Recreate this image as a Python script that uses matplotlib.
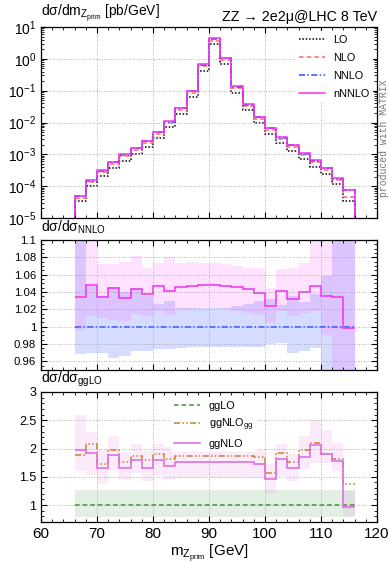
import numpy as np
import matplotlib
matplotlib.use('Agg')
import matplotlib.pyplot as plt
from matplotlib.ticker import FixedLocator, MultipleLocator, FuncFormatter, LogLocator, NullFormatter

plt.rcParams['font.family'] = ['Liberation Sans', 'DejaVu Sans']
plt.rcParams['mathtext.fontset'] = 'custom'
plt.rcParams['mathtext.rm'] = 'Liberation Sans'
plt.rcParams['mathtext.it'] = 'Liberation Sans:italic'
plt.rcParams['mathtext.default'] = 'rm'

# bin edges in m_Zprim [GeV]
edges = np.arange(66, 117, 2)

# top panel: dsigma/dm [pb/GeV]
LO = [3.4e-5, 1.0e-4, 2.1e-4, 3.7e-4, 6.4e-4, 1.0e-3, 1.75e-3, 3.3e-3, 7.0e-3, 1.85e-2,
      0.064, 0.43, 2.9, 0.68, 0.087, 0.024, 9.6e-3, 4.3e-3, 2.2e-3, 1.28e-3,
      7.0e-4, 4.1e-4, 2.4e-4, 1.15e-4, 3.5e-5]
NLO = [4.3e-5, 1.36e-4, 2.8e-4, 5.0e-4, 8.7e-4, 1.38e-3, 2.35e-3, 4.5e-3, 9.5e-3, 2.5e-2,
       0.086, 0.585, 3.75, 0.93, 0.12, 0.033, 1.3e-2, 5.85e-3, 3.0e-3, 1.75e-3,
       9.5e-4, 5.6e-4, 3.3e-4, 1.57e-4, 4.7e-5]
NNLO = [4.9e-5, 1.5e-4, 3.1e-4, 5.55e-4, 9.7e-4, 1.53e-3, 2.6e-3, 4.97e-3, 1.06e-2, 2.77e-2,
        0.0955, 0.65, 4.2, 1.03, 0.134, 0.0364, 0.0144, 6.5e-3, 3.36e-3, 1.94e-3,
        1.06e-3, 6.2e-4, 3.67e-4, 1.74e-4, 7.4e-5]

# middle panel: ratio to NNLO
nNNLO_ratio = [1.034, 1.048, 1.034, 1.045, 1.033, 1.043, 1.038, 1.047, 1.041, 1.046,
               1.047, 1.048, 1.048, 1.047, 1.046, 1.044, 1.039, 1.024, 1.041, 1.032,
               1.040, 1.047, 1.035, 1.034, 0.999]
NNLO_lo = [0.968, 0.970, 0.970, 0.964, 0.966, 0.972, 0.972, 0.974, 0.974, 0.975,
           0.976, 0.976, 0.977, 0.977, 0.977, 0.977, 0.977, 0.980, 0.981, 0.970,
           0.972, 0.975, 0.935, 0.930, 0.930]
NNLO_hi = [1.12, 1.047, 1.035, 1.046, 1.040, 1.045, 1.035, 1.026, 1.030, 1.022,
           1.022, 1.022, 1.021, 1.022, 1.024, 1.026, 1.030, 1.032, 1.025, 1.035,
           1.028, 1.038, 1.058, 1.12, 1.12]
nNNLO_lo = [0.996, 1.012, 1.010, 1.008, 1.006, 1.015, 1.012, 1.018, 1.014, 1.020,
            1.020, 1.021, 1.021, 1.020, 1.018, 1.016, 1.013, 1.004, 1.018, 1.012,
            1.016, 1.018, 0.990, 0.930, 0.930]
nNNLO_hi = [1.12, 1.12, 1.072, 1.072, 1.075, 1.082, 1.068, 1.073, 1.080, 1.073,
            1.075, 1.074, 1.074, 1.072, 1.070, 1.068, 1.068, 1.045, 1.066, 1.068,
            1.073, 1.12, 1.12, 1.12, 1.12]

# bottom panel: ratio to ggLO
ggLO_lo = 0.79
ggLO_hi = 1.27
ggNLOgg = [1.878, 2.087, 1.728, 1.967, 1.758, 1.866, 1.800, 1.907, 1.818, 1.872,
           1.872, 1.871, 1.870, 1.869, 1.868, 1.866, 1.854, 1.561, 1.925, 1.758,
           1.967, 2.100, 1.907, 1.818, 1.370]
ggNLO = [1.967, 1.925, 1.657, 1.884, 1.651, 1.794, 1.663, 1.800, 1.693, 1.764,
         1.765, 1.765, 1.764, 1.763, 1.761, 1.758, 1.728, 1.454, 1.810, 1.657,
         1.848, 2.070, 1.907, 1.788, 0.970]
ggNLO_lo = [1.61, 1.54, 1.39, 1.60, 1.45, 1.57, 1.42, 1.52, 1.45, 1.48,
            1.48, 1.48, 1.48, 1.48, 1.48, 1.48, 1.47, 1.22, 1.51, 1.42,
            1.63, 1.75, 1.75, 1.60, 0.80]
ggNLO_hi = [2.59, 2.29, 1.99, 2.23, 1.93, 2.08, 1.96, 2.08, 2.02, 1.99,
            1.99, 1.99, 1.99, 1.99, 1.99, 1.98, 1.97, 1.72, 2.08, 1.90,
            2.23, 2.50, 2.32, 2.10, 1.25]

c_lo = 'black'
c_nlo = '#ff6a5a'
c_nnlo = '#3050ff'
c_nnnlo = '#f030f0'
c_gglo = '#3a8f3a'
c_ggnlogg = '#c8822e'
c_ggnlo = '#e070e0'

fig = plt.figure(figsize=(3.89, 5.64), dpi=100)
L, W = 41/389, 336/389
ax1 = fig.add_axes([L, 1-218/564, W, 191/564])
ax2 = fig.add_axes([L, 1-370/564, W, 130/564])
ax3 = fig.add_axes([L, 1-522/564, W, 130/564])

for ax in (ax1, ax2, ax3):
    ax.set_xlim(60, 120)
    ax.xaxis.set_major_locator(MultipleLocator(10))
    ax.xaxis.set_minor_locator(MultipleLocator(2))
    ax.tick_params(which='both', direction='in', top=True, right=True, labelsize=9)
    ax.tick_params(which='major', length=4.5, width=0.8)
    ax.tick_params(which='minor', length=2.5, width=0.6)
    ax.grid(True, which='major', linestyle=(0, (1, 2)), color='#999999', linewidth=0.6)
    for s in ax.spines.values():
        s.set_linewidth(0.9)

# top panel
ax1.set_yscale('log')
ax1.set_ylim(1e-5, 10)
ax1.yaxis.set_major_locator(LogLocator(base=10, numticks=10))
ax1.yaxis.set_minor_locator(LogLocator(base=10, subs=np.arange(2, 10), numticks=10))
ax1.yaxis.set_minor_formatter(NullFormatter())
ax1.tick_params(labelbottom=False)
ax1.tick_params(axis='y', labelsize=10)
ax1.stairs(LO, edges, baseline=1e-7, color=c_lo, lw=1.1, ls=(0, (1, 1.2)), label='LO')
ax1.stairs(NLO, edges, baseline=1e-7, color=c_nlo, lw=1.1, ls=(0, (3, 2)), label='NLO')
ax1.stairs(NNLO, edges, baseline=1e-7, color=c_nnlo, lw=1.1, ls=(0, (4, 1.5, 1, 1.5)), label='NNLO')
nNNLO = np.array(NNLO) * np.array(nNNLO_ratio)
ax1.stairs(nNNLO, edges, baseline=1e-7, color=c_nnnlo, lw=1.1, label='nNNLO')
ax1.legend(loc='upper right', fontsize=7.8, frameon=True, facecolor='white',
           edgecolor='none', framealpha=1, handlelength=2.4, handletextpad=0.8,
           labelspacing=0.75, borderaxespad=0.4, borderpad=0.3)
ax1.text(0.0, 1.015, 'dσ/dm$_{Z_{\\rm prim}}$ [pb/GeV]', transform=ax1.transAxes,
         ha='left', va='bottom', fontsize=10)
ax1.text(1.0, 1.015, 'ZZ → 2e2μ@LHC 8 TeV', transform=ax1.transAxes,
         ha='right', va='bottom', fontsize=10.3)
fig.text(0.986, 1-138/564, 'produced with MATRIX', rotation=90, ha='center', va='center',
         family='Liberation Mono', fontsize=7, color='#777777')

# middle panel
ax2.set_ylim(0.95, 1.1)
ax2.yaxis.set_major_locator(FixedLocator(np.arange(0.96, 1.101, 0.02)))
ax2.yaxis.set_minor_locator(MultipleLocator(0.005))
ax2.yaxis.set_major_formatter(FuncFormatter(lambda v, p: f'{v:g}'))
ax2.tick_params(labelbottom=False)
ax2.tick_params(axis='y', labelsize=8.2)
ax2.stairs(NNLO_hi, edges, baseline=NNLO_lo, fill=True, color=c_nnlo, alpha=0.2, lw=0)
ax2.stairs(nNNLO_hi, edges, baseline=nNNLO_lo, fill=True, color='#ff40ff', alpha=0.15, lw=0)
ax2.stairs(np.ones(len(NNLO)), edges, baseline=None, color=c_nnlo, lw=1.1,
           ls=(0, (4, 1.5, 1, 1.5)))
ax2.stairs(nNNLO_ratio, edges, baseline=None, color=c_nnnlo, lw=1.1)
ax2.text(0.0, 1.03, 'dσ/dσ$_{\\rm NNLO}$', transform=ax2.transAxes,
         ha='left', va='bottom', fontsize=10)

# bottom panel
ax3.set_ylim(0.7, 3)
ax3.yaxis.set_major_locator(MultipleLocator(0.5))
ax3.yaxis.set_minor_locator(MultipleLocator(0.1))
ax3.yaxis.set_major_formatter(FuncFormatter(lambda v, p: f'{v:g}'))
n = len(ggNLO)
ax3.stairs(np.full(n, ggLO_hi), edges, baseline=np.full(n, ggLO_lo), fill=True,
           color=c_gglo, alpha=0.14, lw=0)
ax3.stairs(ggNLO_hi, edges, baseline=ggNLO_lo, fill=True, color=c_ggnlo, alpha=0.14, lw=0)
ax3.stairs(np.ones(n), edges, baseline=None, color=c_gglo, lw=1.1, ls=(0, (3, 2)), label='ggLO')
ax3.stairs(ggNLOgg, edges, baseline=None, color=c_ggnlogg, lw=1.1,
           ls=(0, (4, 1.5, 1, 1.5, 1, 1.5)), label='ggNLO$_{\\rm gg}$')
ax3.stairs(ggNLO, edges, baseline=None, color=c_ggnlo, lw=1.2, label='ggNLO')
ax3.legend(loc='upper left', bbox_to_anchor=(0.37, 1.0), fontsize=7.8, frameon=True,
           facecolor='white', edgecolor='none', framealpha=1, handlelength=2.4,
           handletextpad=0.8, labelspacing=0.55, borderpad=0.3)
ax3.text(0.0, 1.02, 'dσ/dσ$_{\\rm ggLO}$', transform=ax3.transAxes,
         ha='left', va='bottom', fontsize=10)
ax3.tick_params(axis='x', labelsize=11)
ax3.set_xlabel('m$_{Z_{\\rm prim}}$ [GeV]', fontsize=11, labelpad=1)

fig.savefig('out.png', dpi=100)
